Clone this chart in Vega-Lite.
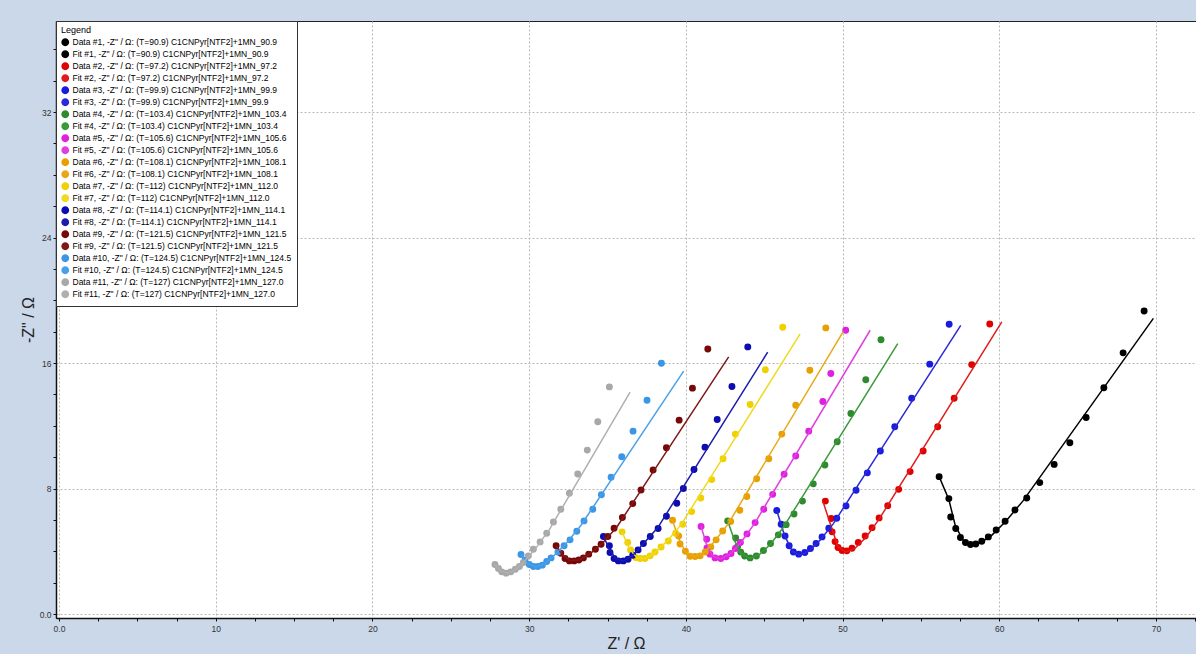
{
  "$schema": "https://vega.github.io/schema/vega-lite/v6.json",
  "width": 1140,
  "height": 597,
  "autosize": {"type": "none"},
  "padding": {"left": 56, "top": 21, "right": 0, "bottom": 36},
  "background": "#cad8ea",
  "config": {
    "view": {"fill": "white", "stroke": "#222", "strokeWidth": 1},
    "font": "Liberation Sans"
  },
  "resolve": {"axis": {"x": "independent", "y": "independent"}},
  "datasets": {
    "labels": [
      {"n": "D1", "kind": "Data", "label": "Data #1, -Z\" / Ω: (T=90.9) C1CNPyr[NTF2]+1MN_90.9"},
      {"n": "F1", "kind": "Fit", "label": "Fit #1, -Z\" / Ω: (T=90.9) C1CNPyr[NTF2]+1MN_90.9"},
      {"n": "D2", "kind": "Data", "label": "Data #2, -Z\" / Ω: (T=97.2) C1CNPyr[NTF2]+1MN_97.2"},
      {"n": "F2", "kind": "Fit", "label": "Fit #2, -Z\" / Ω: (T=97.2) C1CNPyr[NTF2]+1MN_97.2"},
      {"n": "D3", "kind": "Data", "label": "Data #3, -Z\" / Ω: (T=99.9) C1CNPyr[NTF2]+1MN_99.9"},
      {"n": "F3", "kind": "Fit", "label": "Fit #3, -Z\" / Ω: (T=99.9) C1CNPyr[NTF2]+1MN_99.9"},
      {"n": "D4", "kind": "Data", "label": "Data #4, -Z\" / Ω: (T=103.4) C1CNPyr[NTF2]+1MN_103.4"},
      {"n": "F4", "kind": "Fit", "label": "Fit #4, -Z\" / Ω: (T=103.4) C1CNPyr[NTF2]+1MN_103.4"},
      {"n": "D5", "kind": "Data", "label": "Data #5, -Z\" / Ω: (T=105.6) C1CNPyr[NTF2]+1MN_105.6"},
      {"n": "F5", "kind": "Fit", "label": "Fit #5, -Z\" / Ω: (T=105.6) C1CNPyr[NTF2]+1MN_105.6"},
      {"n": "D6", "kind": "Data", "label": "Data #6, -Z\" / Ω: (T=108.1) C1CNPyr[NTF2]+1MN_108.1"},
      {"n": "F6", "kind": "Fit", "label": "Fit #6, -Z\" / Ω: (T=108.1) C1CNPyr[NTF2]+1MN_108.1"},
      {"n": "D7", "kind": "Data", "label": "Data #7, -Z\" / Ω: (T=112) C1CNPyr[NTF2]+1MN_112.0"},
      {"n": "F7", "kind": "Fit", "label": "Fit #7, -Z\" / Ω: (T=112) C1CNPyr[NTF2]+1MN_112.0"},
      {"n": "D8", "kind": "Data", "label": "Data #8, -Z\" / Ω: (T=114.1) C1CNPyr[NTF2]+1MN_114.1"},
      {"n": "F8", "kind": "Fit", "label": "Fit #8, -Z\" / Ω: (T=114.1) C1CNPyr[NTF2]+1MN_114.1"},
      {"n": "D9", "kind": "Data", "label": "Data #9, -Z\" / Ω: (T=121.5) C1CNPyr[NTF2]+1MN_121.5"},
      {"n": "F9", "kind": "Fit", "label": "Fit #9, -Z\" / Ω: (T=121.5) C1CNPyr[NTF2]+1MN_121.5"},
      {"n": "D10", "kind": "Data", "label": "Data #10, -Z\" / Ω: (T=124.5) C1CNPyr[NTF2]+1MN_124.5"},
      {"n": "F10", "kind": "Fit", "label": "Fit #10, -Z\" / Ω: (T=124.5) C1CNPyr[NTF2]+1MN_124.5"},
      {"n": "D11", "kind": "Data", "label": "Data #11, -Z\" / Ω: (T=127) C1CNPyr[NTF2]+1MN_127.0"},
      {"n": "F11", "kind": "Fit", "label": "Fit #11, -Z\" / Ω: (T=127) C1CNPyr[NTF2]+1MN_127.0"}
    ]
  },
  "data": {"values": [
    {"n":"D1","x":56.16,"y":8.76},{"n":"D1","x":56.78,"y":7.36},{"n":"D1","x":56.9,"y":6.19},{"n":"D1","x":57.22,"y":5.45},{"n":"D1","x":57.52,"y":4.88},{"n":"D1","x":57.84,"y":4.56},{"n":"D1","x":58.16,"y":4.43},{"n":"D1","x":58.5,"y":4.47},{"n":"D1","x":58.88,"y":4.64},{"n":"D1","x":59.3,"y":4.92},{"n":"D1","x":59.8,"y":5.36},{"n":"D1","x":60.37,"y":5.92},{"n":"D1","x":61.0,"y":6.63},{"n":"D1","x":61.75,"y":7.4},{"n":"D1","x":62.58,"y":8.38},{"n":"D1","x":63.5,"y":9.54},{"n":"D1","x":64.5,"y":10.92},{"n":"D1","x":65.54,"y":12.53},{"n":"D1","x":66.67,"y":14.42},{"n":"D1","x":67.9,"y":16.65},{"n":"D1","x":69.24,"y":19.32},
    {"n":"F1","x":56.16,"y":8.76},{"n":"F1","x":56.78,"y":7.3},{"n":"F1","x":57.2,"y":5.6},{"n":"F1","x":57.7,"y":4.7},{"n":"F1","x":58.2,"y":4.4},{"n":"F1","x":58.8,"y":4.55},{"n":"F1","x":59.5,"y":5.0},{"n":"F1","x":60.4,"y":5.9},{"n":"F1","x":61.5,"y":7.2},{"n":"F1","x":69.83,"y":18.85},
    {"n":"D2","x":48.9,"y":7.2},{"n":"D2","x":49.27,"y":6.09},{"n":"D2","x":49.33,"y":5.24},{"n":"D2","x":49.52,"y":4.62},{"n":"D2","x":49.71,"y":4.24},{"n":"D2","x":49.97,"y":4.05},{"n":"D2","x":50.27,"y":4.03},{"n":"D2","x":50.6,"y":4.2},{"n":"D2","x":51.0,"y":4.56},{"n":"D2","x":51.44,"y":4.98},{"n":"D2","x":51.88,"y":5.51},{"n":"D2","x":52.33,"y":6.13},{"n":"D2","x":52.88,"y":6.91},{"n":"D2","x":53.58,"y":7.95},{"n":"D2","x":54.31,"y":9.08},{"n":"D2","x":55.14,"y":10.39},{"n":"D2","x":56.07,"y":11.94},{"n":"D2","x":57.12,"y":13.76},{"n":"D2","x":58.24,"y":15.9},{"n":"D2","x":59.39,"y":18.49},
    {"n":"F2","x":48.74,"y":7.2},{"n":"F2","x":49.3,"y":5.5},{"n":"F2","x":49.7,"y":4.3},{"n":"F2","x":50.2,"y":3.95},{"n":"F2","x":50.8,"y":4.2},{"n":"F2","x":51.5,"y":4.9},{"n":"F2","x":52.3,"y":6.0},{"n":"F2","x":60.16,"y":18.62},
    {"n":"D3","x":45.8,"y":6.6},{"n":"D3","x":46.08,"y":5.73},{"n":"D3","x":46.33,"y":4.98},{"n":"D3","x":46.59,"y":4.35},{"n":"D3","x":46.86,"y":3.96},{"n":"D3","x":47.2,"y":3.82},{"n":"D3","x":47.59,"y":3.92},{"n":"D3","x":47.95,"y":4.18},{"n":"D3","x":48.31,"y":4.5},{"n":"D3","x":48.69,"y":4.92},{"n":"D3","x":49.12,"y":5.47},{"n":"D3","x":49.63,"y":6.11},{"n":"D3","x":50.22,"y":6.89},{"n":"D3","x":50.86,"y":7.89},{"n":"D3","x":51.58,"y":9.0},{"n":"D3","x":52.41,"y":10.39},{"n":"D3","x":53.33,"y":11.94},{"n":"D3","x":54.41,"y":13.76},{"n":"D3","x":55.56,"y":15.93},{"n":"D3","x":56.8,"y":18.47},
    {"n":"F3","x":45.8,"y":6.6},{"n":"F3","x":46.3,"y":5.0},{"n":"F3","x":46.8,"y":4.0},{"n":"F3","x":47.3,"y":3.75},{"n":"F3","x":47.9,"y":4.05},{"n":"F3","x":48.6,"y":4.75},{"n":"F3","x":49.4,"y":5.75},{"n":"F3","x":57.54,"y":18.4},
    {"n":"D4","x":42.67,"y":5.94},{"n":"D4","x":43.18,"y":4.85},{"n":"D4","x":43.3,"y":4.3},{"n":"D4","x":43.5,"y":3.95},{"n":"D4","x":43.75,"y":3.7},{"n":"D4","x":44.1,"y":3.58},{"n":"D4","x":44.5,"y":3.7},{"n":"D4","x":44.95,"y":4.05},{"n":"D4","x":45.4,"y":4.5},{"n":"D4","x":45.9,"y":5.05},{"n":"D4","x":46.4,"y":5.7},{"n":"D4","x":46.9,"y":6.38},{"n":"D4","x":47.44,"y":7.2},{"n":"D4","x":48.13,"y":8.3},{"n":"D4","x":48.87,"y":9.5},{"n":"D4","x":49.66,"y":10.98},{"n":"D4","x":50.53,"y":12.78},{"n":"D4","x":51.48,"y":14.93},{"n":"D4","x":52.45,"y":17.49},
    {"n":"F4","x":42.67,"y":5.94},{"n":"F4","x":43.1,"y":4.7},{"n":"F4","x":43.5,"y":3.9},{"n":"F4","x":44.1,"y":3.55},{"n":"F4","x":44.7,"y":3.8},{"n":"F4","x":45.4,"y":4.45},{"n":"F4","x":46.2,"y":5.5},{"n":"F4","x":53.52,"y":17.24},
    {"n":"D5","x":40.97,"y":5.58},{"n":"D5","x":41.33,"y":4.77},{"n":"D5","x":41.35,"y":4.22},{"n":"D5","x":41.54,"y":3.82},{"n":"D5","x":41.86,"y":3.58},{"n":"D5","x":42.23,"y":3.54},{"n":"D5","x":42.57,"y":3.65},{"n":"D5","x":42.88,"y":3.86},{"n":"D5","x":43.16,"y":4.18},{"n":"D5","x":43.48,"y":4.56},{"n":"D5","x":43.9,"y":5.11},{"n":"D5","x":44.42,"y":5.83},{"n":"D5","x":44.97,"y":6.68},{"n":"D5","x":45.54,"y":7.63},{"n":"D5","x":46.27,"y":8.91},{"n":"D5","x":47.01,"y":10.07},{"n":"D5","x":47.84,"y":11.66},{"n":"D5","x":48.74,"y":13.55},{"n":"D5","x":49.25,"y":15.33},{"n":"D5","x":50.2,"y":18.09},
    {"n":"F5","x":40.97,"y":5.58},{"n":"F5","x":41.3,"y":4.5},{"n":"F5","x":41.7,"y":3.7},{"n":"F5","x":42.2,"y":3.52},{"n":"F5","x":42.8,"y":3.8},{"n":"F5","x":43.5,"y":4.55},{"n":"F5","x":44.4,"y":5.8},{"n":"F5","x":51.76,"y":18.09},
    {"n":"D6","x":39.15,"y":5.98},{"n":"D6","x":39.54,"y":4.98},{"n":"D6","x":39.63,"y":4.47},{"n":"D6","x":39.97,"y":4.01},{"n":"D6","x":40.27,"y":3.69},{"n":"D6","x":40.59,"y":3.67},{"n":"D6","x":40.91,"y":3.71},{"n":"D6","x":41.24,"y":3.96},{"n":"D6","x":41.59,"y":4.28},{"n":"D6","x":41.93,"y":4.73},{"n":"D6","x":42.35,"y":5.3},{"n":"D6","x":42.86,"y":5.9},{"n":"D6","x":43.44,"y":6.62},{"n":"D6","x":43.89,"y":7.49},{"n":"D6","x":44.52,"y":8.63},{"n":"D6","x":45.29,"y":9.9},{"n":"D6","x":46.12,"y":11.47},{"n":"D6","x":47.01,"y":13.31},{"n":"D6","x":47.91,"y":15.54},{"n":"D6","x":48.93,"y":18.24},
    {"n":"F6","x":39.15,"y":5.98},{"n":"F6","x":39.5,"y":4.9},{"n":"F6","x":39.95,"y":4.0},{"n":"F6","x":40.5,"y":3.65},{"n":"F6","x":41.1,"y":3.85},{"n":"F6","x":41.8,"y":4.6},{"n":"F6","x":42.7,"y":5.75},{"n":"F6","x":50.05,"y":18.02},
    {"n":"D7","x":35.93,"y":5.24},{"n":"D7","x":36.29,"y":4.56},{"n":"D7","x":36.47,"y":4.09},{"n":"D7","x":36.8,"y":3.6},{"n":"D7","x":37.08,"y":3.54},{"n":"D7","x":37.38,"y":3.54},{"n":"D7","x":37.72,"y":3.71},{"n":"D7","x":38.03,"y":3.96},{"n":"D7","x":38.42,"y":4.28},{"n":"D7","x":38.88,"y":4.66},{"n":"D7","x":39.35,"y":5.15},{"n":"D7","x":39.8,"y":5.73},{"n":"D7","x":40.37,"y":6.53},{"n":"D7","x":40.95,"y":7.4},{"n":"D7","x":41.65,"y":8.57},{"n":"D7","x":42.37,"y":9.9},{"n":"D7","x":43.16,"y":11.47},{"n":"D7","x":44.1,"y":13.36},{"n":"D7","x":45.07,"y":15.57},{"n":"D7","x":46.18,"y":18.28},
    {"n":"F7","x":35.93,"y":5.24},{"n":"F7","x":36.4,"y":4.15},{"n":"F7","x":36.9,"y":3.58},{"n":"F7","x":37.4,"y":3.55},{"n":"F7","x":38.0,"y":3.9},{"n":"F7","x":38.8,"y":4.65},{"n":"F7","x":39.7,"y":5.7},{"n":"F7","x":47.29,"y":17.86},
    {"n":"D8","x":34.74,"y":4.94},{"n":"D8","x":35.12,"y":4.35},{"n":"D8","x":35.16,"y":3.92},{"n":"D8","x":35.42,"y":3.54},{"n":"D8","x":35.69,"y":3.39},{"n":"D8","x":36.01,"y":3.39},{"n":"D8","x":36.31,"y":3.5},{"n":"D8","x":36.61,"y":3.75},{"n":"D8","x":36.95,"y":4.09},{"n":"D8","x":37.29,"y":4.5},{"n":"D8","x":37.73,"y":4.94},{"n":"D8","x":38.23,"y":5.45},{"n":"D8","x":38.76,"y":6.23},{"n":"D8","x":39.42,"y":7.06},{"n":"D8","x":39.84,"y":8.0},{"n":"D8","x":40.52,"y":9.22},{"n":"D8","x":41.22,"y":10.64},{"n":"D8","x":42.0,"y":12.4},{"n":"D8","x":42.94,"y":14.5},{"n":"D8","x":43.95,"y":17.03},
    {"n":"F8","x":34.74,"y":4.94},{"n":"F8","x":35.1,"y":4.2},{"n":"F8","x":35.5,"y":3.55},{"n":"F8","x":36.0,"y":3.38},{"n":"F8","x":36.6,"y":3.72},{"n":"F8","x":37.3,"y":4.5},{"n":"F8","x":38.2,"y":5.5},{"n":"F8","x":45.22,"y":16.69},
    {"n":"D9","x":31.72,"y":4.35},{"n":"D9","x":32.02,"y":3.88},{"n":"D9","x":32.29,"y":3.54},{"n":"D9","x":32.57,"y":3.39},{"n":"D9","x":32.87,"y":3.39},{"n":"D9","x":33.17,"y":3.45},{"n":"D9","x":33.46,"y":3.58},{"n":"D9","x":33.8,"y":3.82},{"n":"D9","x":34.23,"y":4.13},{"n":"D9","x":34.59,"y":4.45},{"n":"D9","x":35.02,"y":4.94},{"n":"D9","x":35.42,"y":5.47},{"n":"D9","x":35.95,"y":6.15},{"n":"D9","x":36.61,"y":7.04},{"n":"D9","x":37.14,"y":7.91},{"n":"D9","x":37.91,"y":9.18},{"n":"D9","x":38.76,"y":10.6},{"n":"D9","x":39.57,"y":12.36},{"n":"D9","x":40.42,"y":14.4},{"n":"D9","x":41.4,"y":16.9},
    {"n":"F9","x":31.72,"y":4.35},{"n":"F9","x":32.1,"y":3.8},{"n":"F9","x":32.6,"y":3.42},{"n":"F9","x":33.2,"y":3.45},{"n":"F9","x":33.9,"y":3.85},{"n":"F9","x":34.7,"y":4.55},{"n":"F9","x":35.6,"y":5.55},{"n":"F9","x":42.73,"y":16.39},
    {"n":"D10","x":29.48,"y":3.8},{"n":"D10","x":29.74,"y":3.45},{"n":"D10","x":30.01,"y":3.16},{"n":"D10","x":30.27,"y":3.03},{"n":"D10","x":30.55,"y":3.03},{"n":"D10","x":30.84,"y":3.12},{"n":"D10","x":31.12,"y":3.35},{"n":"D10","x":31.4,"y":3.58},{"n":"D10","x":31.84,"y":3.96},{"n":"D10","x":32.23,"y":4.35},{"n":"D10","x":32.61,"y":4.73},{"n":"D10","x":33.04,"y":5.28},{"n":"D10","x":33.5,"y":5.94},{"n":"D10","x":34.06,"y":6.68},{"n":"D10","x":34.61,"y":7.61},{"n":"D10","x":35.23,"y":8.72},{"n":"D10","x":35.91,"y":10.03},{"n":"D10","x":36.63,"y":11.66},{"n":"D10","x":37.52,"y":13.63},{"n":"D10","x":38.44,"y":15.99},
    {"n":"F10","x":29.48,"y":3.8},{"n":"F10","x":29.9,"y":3.25},{"n":"F10","x":30.4,"y":3.0},{"n":"F10","x":31.0,"y":3.2},{"n":"F10","x":31.6,"y":3.75},{"n":"F10","x":32.4,"y":4.55},{"n":"F10","x":33.3,"y":5.65},{"n":"F10","x":39.86,"y":15.48},
    {"n":"D11","x":27.82,"y":3.16},{"n":"D11","x":28.04,"y":2.91},{"n":"D11","x":28.25,"y":2.69},{"n":"D11","x":28.53,"y":2.61},{"n":"D11","x":28.83,"y":2.69},{"n":"D11","x":29.12,"y":2.86},{"n":"D11","x":29.38,"y":3.03},{"n":"D11","x":29.63,"y":3.29},{"n":"D11","x":29.95,"y":3.71},{"n":"D11","x":30.27,"y":4.13},{"n":"D11","x":30.7,"y":4.6},{"n":"D11","x":31.12,"y":5.15},{"n":"D11","x":31.55,"y":5.87},{"n":"D11","x":32.02,"y":6.68},{"n":"D11","x":32.57,"y":7.7},{"n":"D11","x":33.1,"y":8.93},{"n":"D11","x":33.71,"y":10.45},{"n":"D11","x":34.38,"y":12.26},{"n":"D11","x":35.12,"y":14.48},
    {"n":"F11","x":27.82,"y":3.16},{"n":"F11","x":28.2,"y":2.75},{"n":"F11","x":28.6,"y":2.6},{"n":"F11","x":29.1,"y":2.8},{"n":"F11","x":29.7,"y":3.35},{"n":"F11","x":30.5,"y":4.3},{"n":"F11","x":31.3,"y":5.4},{"n":"F11","x":36.44,"y":14.14}
  ]},
  "transform": [
    {"lookup": "n", "from": {"data": {"name": "labels"}, "key": "n", "fields": ["label", "kind"]}}
  ],
  "layer": [
    {
      "transform": [{"filter": "datum.kind === 'Data'"}],
      "mark": {"type": "circle", "size": 48, "opacity": 1, "clip": true},
      "encoding": {
        "x": {
          "field": "x", "type": "quantitative",
          "scale": {"domain": [-0.19, 72.55], "nice": false, "zero": false},
          "axis": {
            "orient": "bottom",
            "title": "Z' / Ω", "titleFontSize": 16, "titleFontWeight": "normal", "titleColor": "#222", "titlePadding": 3,
            "values": [0,2.5,5,7.5,10,12.5,15,17.5,20,22.5,25,27.5,30,32.5,35,37.5,40,42.5,45,47.5,50,52.5,55,57.5,60,62.5,65,67.5,70,72.5],
            "labelExpr": "datum.value === 0 ? '0.0' : (datum.value % 10 === 0 ? datum.label : '')",
            "labelFontSize": 8.5, "labelColor": "#333", "labelOverlap": false, "labelFlush": false, "labelPadding": 3,
            "domainColor": "#111", "domainWidth": 1.5, "tickColor": "#111", "tickSize": 3,
            "grid": true, "gridDash": [2, 2], "gridColor": "#b8b8b8",
            "gridOpacity": {"condition": {"test": "datum.value % 10 === 0", "value": 1}, "value": 0}
          }
        },
        "y": {
          "field": "y", "type": "quantitative",
          "scale": {"domain": [-0.25, 37.8], "nice": false, "zero": false},
          "axis": {
            "orient": "left",
            "title": "-Z\" / Ω", "titleFontSize": 16, "titleFontWeight": "normal", "titleColor": "#222", "titlePadding": 3,
            "values": [0,2,4,6,8,10,12,14,16,18,20,22,24,26,28,30,32,34,36],
            "labelExpr": "datum.value === 0 ? '0.0' : (datum.value % 8 === 0 ? datum.label : '')",
            "labelFontSize": 8.5, "labelColor": "#333", "labelOverlap": false, "labelFlush": false, "labelPadding": 2,
            "domainColor": "#111", "domainWidth": 1.5, "tickColor": "#111", "tickSize": 3,
            "grid": true, "gridDash": [2, 2], "gridColor": "#b8b8b8",
            "gridOpacity": {"condition": {"test": "datum.value % 8 === 0", "value": 1}, "value": 0}
          }
        },
        "color": {
          "field": "label", "type": "nominal",
          "scale": {
            "domain": [
              "Data #1, -Z\" / Ω: (T=90.9) C1CNPyr[NTF2]+1MN_90.9",
              "Fit #1, -Z\" / Ω: (T=90.9) C1CNPyr[NTF2]+1MN_90.9",
              "Data #2, -Z\" / Ω: (T=97.2) C1CNPyr[NTF2]+1MN_97.2",
              "Fit #2, -Z\" / Ω: (T=97.2) C1CNPyr[NTF2]+1MN_97.2",
              "Data #3, -Z\" / Ω: (T=99.9) C1CNPyr[NTF2]+1MN_99.9",
              "Fit #3, -Z\" / Ω: (T=99.9) C1CNPyr[NTF2]+1MN_99.9",
              "Data #4, -Z\" / Ω: (T=103.4) C1CNPyr[NTF2]+1MN_103.4",
              "Fit #4, -Z\" / Ω: (T=103.4) C1CNPyr[NTF2]+1MN_103.4",
              "Data #5, -Z\" / Ω: (T=105.6) C1CNPyr[NTF2]+1MN_105.6",
              "Fit #5, -Z\" / Ω: (T=105.6) C1CNPyr[NTF2]+1MN_105.6",
              "Data #6, -Z\" / Ω: (T=108.1) C1CNPyr[NTF2]+1MN_108.1",
              "Fit #6, -Z\" / Ω: (T=108.1) C1CNPyr[NTF2]+1MN_108.1",
              "Data #7, -Z\" / Ω: (T=112) C1CNPyr[NTF2]+1MN_112.0",
              "Fit #7, -Z\" / Ω: (T=112) C1CNPyr[NTF2]+1MN_112.0",
              "Data #8, -Z\" / Ω: (T=114.1) C1CNPyr[NTF2]+1MN_114.1",
              "Fit #8, -Z\" / Ω: (T=114.1) C1CNPyr[NTF2]+1MN_114.1",
              "Data #9, -Z\" / Ω: (T=121.5) C1CNPyr[NTF2]+1MN_121.5",
              "Fit #9, -Z\" / Ω: (T=121.5) C1CNPyr[NTF2]+1MN_121.5",
              "Data #10, -Z\" / Ω: (T=124.5) C1CNPyr[NTF2]+1MN_124.5",
              "Fit #10, -Z\" / Ω: (T=124.5) C1CNPyr[NTF2]+1MN_124.5",
              "Data #11, -Z\" / Ω: (T=127) C1CNPyr[NTF2]+1MN_127.0",
              "Fit #11, -Z\" / Ω: (T=127) C1CNPyr[NTF2]+1MN_127.0"
            ],
            "range": ["#000000","#000000","#e00000","#e01c1c","#1a1ae0","#2a2ad6","#2e8a2e","#3a9a3a","#e020e0","#e040e0","#e8a000","#e8a818","#f0d000","#f0da20","#0c0cb0","#1c1cb0","#780808","#801818","#3c96e6","#4aa0e8","#a8a8a8","#b0b0b0"]
          },
          "legend": {
            "title": "Legend", "orient": "top-left", "offset": 0, "padding": 5,
            "strokeColor": "#333", "fillColor": "white", "cornerRadius": 0,
            "titleFontSize": 9, "titleFontWeight": "normal", "titleColor": "#000", "titlePadding": 3,
            "labelFontSize": 8.5, "labelColor": "#000", "labelLimit": 400, "labelOffset": 3,
            "rowPadding": -1, "symbolSize": 40
          }
        }
      }
    },
    {
      "transform": [{"filter": "datum.kind === 'Fit'"}],
      "mark": {"type": "line", "strokeWidth": 1.5, "clip": true},
      "encoding": {
        "x": {"field": "x", "type": "quantitative", "scale": {"domain": [-0.19, 72.55], "nice": false, "zero": false}, "axis": null},
        "y": {"field": "y", "type": "quantitative", "scale": {"domain": [-0.25, 37.8], "nice": false, "zero": false}, "axis": null},
        "color": {"field": "label", "type": "nominal", "legend": null}
      }
    }
  ]
}
